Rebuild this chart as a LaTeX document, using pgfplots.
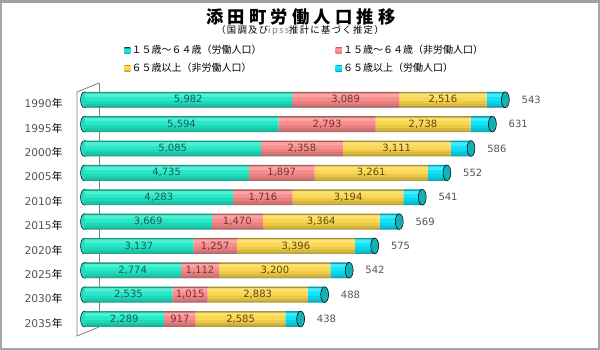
\documentclass[border=0pt]{standalone}
\usepackage{pgfplots}
\pgfplotsset{compat=1.18}
\usepackage{pgfplotstable}
\usepackage{fontspec}
\setmainfont{DejaVu Sans}
\newfontfamily\cjk{Noto Sans CJK JP}
\definecolor{tT}{HTML}{1870A8}
\definecolor{tU}{HTML}{22E6E0}
\definecolor{tM}{HTML}{24EAC8}
\definecolor{tB}{HTML}{0C9488}
\definecolor{pT}{HTML}{D87878}
\definecolor{pU}{HTML}{FFA8A8}
\definecolor{pM}{HTML}{FA8C8C}
\definecolor{pB}{HTML}{C86468}
\definecolor{yT}{HTML}{C89A10}
\definecolor{yU}{HTML}{FFE060}
\definecolor{yM}{HTML}{FCD850}
\definecolor{yB}{HTML}{C89418}
\definecolor{cT}{HTML}{10A8C0}
\definecolor{cU}{HTML}{10F4FF}
\definecolor{cM}{HTML}{10E4FA}
\definecolor{cB}{HTML}{0898C8}
\definecolor{capC}{HTML}{14B0B4}
\definecolor{lblT}{HTML}{1F5A52}
\definecolor{lblP}{HTML}{6A3838}
\definecolor{lblY}{HTML}{5A4818}
\definecolor{lblO}{HTML}{555555}
\pgfdeclareverticalshading{tealsh}{100bp}{color(0bp)=(tB); color(25bp)=(tB); color(35bp)=(tM!75!tB); color(52bp)=(tM); color(66bp)=(tU); color(72bp)=(tU); color(75bp)=(tT); color(100bp)=(tT)}
\pgfdeclareverticalshading{pinksh}{100bp}{color(0bp)=(pB); color(25bp)=(pB); color(35bp)=(pM!80!pB); color(52bp)=(pM); color(66bp)=(pU); color(72bp)=(pU); color(75bp)=(pT); color(100bp)=(pT)}
\pgfdeclareverticalshading{yellsh}{100bp}{color(0bp)=(yB); color(25bp)=(yB); color(35bp)=(yM!75!yB); color(52bp)=(yM); color(66bp)=(yU); color(72bp)=(yU); color(75bp)=(yT); color(100bp)=(yT)}
\pgfdeclareverticalshading{cyansh}{100bp}{color(0bp)=(cB); color(25bp)=(cB); color(35bp)=(cM!80!cB); color(52bp)=(cM); color(66bp)=(cU); color(72bp)=(cU); color(75bp)=(cT); color(100bp)=(cT)}
\pgfplotstableread{
y a b c d
0 5982 3089 2516 543
1 5594 2793 2738 631
2 5085 2358 3111 586
3 4735 1897 3261 552
4 4283 1716 3194 541
5 3669 1470 3364 569
6 3137 1257 3396 575
7 2774 1112 3200 542
8 2535 1015 2883 488
9 2289 917 2585 438
}\data
\newcommand\yr[1]{{\color{lblO}#1}{\cjk 年}}
\pgfplotsset{base/.style={scale only axis, width=338.3pt, height=182.7pt,
  xmin=0, xmax=13000, ymin=-0.5, ymax=9.5, y dir=reverse,
  at={(SW)}, anchor=south west, clip=false},
  band/.style n args={4}{xbar, draw=none, fill=#3, fill opacity=#4, bar width=#1, bar shift=#2, forget plot}}
\begin{document}
\begin{tikzpicture}
\begin{scope}[x=0.75pt,y=-0.75pt,yshift=262.5pt]
\useasboundingbox (0,0) rectangle (600,350);
\fill[white] (0,0) rectangle (600,350);
\draw[gray!70, line width=1.2pt] (1,1) rectangle (599,349);
\fill[gray!75] (0,0) rectangle (600,3);
\node[font=\cjk\bfseries\fontsize{13}{15}\selectfont] at (301,17) {\addfontfeature{LetterSpace=24}添田町労働人口推移};
\node[font=\cjk\fontsize{7}{8}\selectfont] at (300,31) {\addfontfeature{LetterSpace=14}（国調及び{\color{gray}ipss}推計に基づく推定）};
\draw[gray, line width=0.6pt] (99,83) -- (99,327);
\draw[gray, line width=0.6pt] (99,83) -- (77,92) -- (77,336) -- (99,327);
\coordinate (SW) at (84.5,331.2);
\end{scope}
% axis 0: left caps, year labels, legend
\begin{axis}[base,
  axis x line=none, axis y line*=left, y axis line style={draw=none},
  ytick={0,...,9}, major tick length=0pt,
  yticklabels={\yr{1990},\yr{1995},\yr{2000},\yr{2005},\yr{2010},\yr{2015},\yr{2020},\yr{2025},\yr{2030},\yr{2035}},
  yticklabel style={font=\fontsize{8}{9}\selectfont, xshift=-13pt, yshift=-3pt},
  legend columns=2, legend cell align=left,
  legend image code/.code={\path[#1] (0pt,-2.3pt) rectangle (4.6pt,2.3pt);},
  legend style={at={(axis description cs:0.0876,1.18)}, anchor=north west,
    draw=none, fill=none, inner sep=0pt, row sep=3.2pt,
    font=\cjk\fontsize{7.5}{9}\selectfont,
    nodes={inner sep=1pt}}]
\addplot[only marks, mark=*, mark size=5.9pt, mark options={xscale=0.5, fill=tM!85!tB, draw=none}, forget plot] table[x expr=0, y=y] {\data};
\addlegendimage{shading=tealsh, shade, draw=none}
\addlegendentry{\makebox[152pt][l]{１５歳～６４歳（労働人口）}}
\addlegendimage{shading=pinksh, shade, draw=none}
\addlegendentry{１５歳～６４歳（非労働人口）}
\addlegendimage{shading=yellsh, shade, draw=none}
\addlegendentry{\makebox[152pt][l]{６５歳以上（非労働人口）}}
\addlegendimage{shading=cyansh, shade, draw=none}
\addlegendentry{６５歳以上（労働人口）}
\end{axis}
% bars
\begin{axis}[base, hide axis, xbar stacked, bar width=0.65]
\addplot[draw=none, fill=tM] table[x=a, y=y] {\data};
\addplot[draw=none, fill=pM] table[x=b, y=y] {\data};
\addplot[draw=none, fill=yM] table[x=c, y=y] {\data};
\addplot[draw=none, fill=cM] table[x=d, y=y] {\data};
\end{axis}
% shading bands over the whole bar length
\begin{axis}[base, hide axis]
\addplot[band={0.062}{-0.296}{black}{0.32}] table[x expr=\thisrow{a}+\thisrow{b}+\thisrow{c}+\thisrow{d}, y=y] {\data};
\addplot[band={0.144}{-0.193}{white}{0.22}] table[x expr=\thisrow{a}+\thisrow{b}+\thisrow{c}+\thisrow{d}, y=y] {\data};
\addplot[band={0.123}{0.103}{black}{0.07}] table[x expr=\thisrow{a}+\thisrow{b}+\thisrow{c}+\thisrow{d}, y=y] {\data};
\addplot[band={0.103}{0.215}{black}{0.15}] table[x expr=\thisrow{a}+\thisrow{b}+\thisrow{c}+\thisrow{d}, y=y] {\data};
\addplot[band={0.062}{0.296}{black}{0.25}] table[x expr=\thisrow{a}+\thisrow{b}+\thisrow{c}+\thisrow{d}, y=y] {\data};
\end{axis}
% caps and labels
\begin{axis}[base, hide axis,
  /pgf/number format/1000 sep={,},
  /pgf/number format/assume math mode=true,
  nodes near coords style={font=\fontsize{7.5}{8}\selectfont, anchor=center, inner sep=0pt}]
\addplot[only marks, mark=*, mark size=5.9pt, mark options={xscale=0.5, fill=capC, draw=none}] table[x expr=\thisrow{a}+\thisrow{b}+\thisrow{c}+\thisrow{d}, y=y] {\data};
\addplot[only marks, mark=none, nodes near coords, point meta=explicit,
  nodes near coords style={color=lblT}] table[x expr=\thisrow{a}/2, y=y, meta=a] {\data};
\addplot[only marks, mark=none, nodes near coords, point meta=explicit,
  nodes near coords style={color=lblP}] table[x expr=\thisrow{a}+\thisrow{b}/2, y=y, meta=b] {\data};
\addplot[only marks, mark=none, nodes near coords, point meta=explicit,
  nodes near coords style={color=lblY}] table[x expr=\thisrow{a}+\thisrow{b}+\thisrow{c}/2, y=y, meta=c] {\data};
\addplot[only marks, mark=none, nodes near coords, point meta=explicit,
  nodes near coords style={color=lblO, anchor=west, xshift=12pt}] table[x expr=\thisrow{a}+\thisrow{b}+\thisrow{c}+\thisrow{d}, y=y, meta=d] {\data};
\end{axis}
\end{tikzpicture}
\end{document}
